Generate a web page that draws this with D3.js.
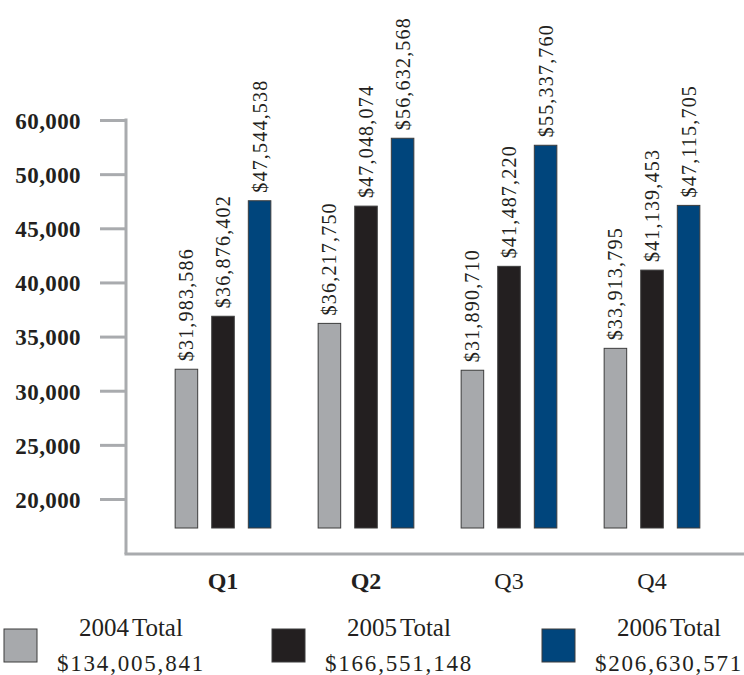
<!DOCTYPE html>
<html>
<head>
<meta charset="utf-8">
<script src="https://cdn.jsdelivr.net/npm/d3@7"></script>
<style>
  html, body { margin: 0; padding: 0; background: #fff; }
  svg { display: block; }
  text { font-family: "Liberation Serif", "DejaVu Serif", serif; fill: #231f20; }
</style>
</head>
<body>
<svg id="chart" width="744" height="675"></svg>
<script>
// Quarterly revenue by year (values in $ thousands on the axis)
const quarters = ["Q1", "Q2", "Q3", "Q4"];
const boldQuarters = ["Q1", "Q2"];
const years = ["2004", "2005", "2006"];
const values2004 = [31983586, 36217750, 31890710, 33913795];
const values2005 = [36876402, 47048074, 41487220, 41139453];
const values2006 = [47544538, 56632568, 55337760, 47115705];
const yearTotals = [134005841, 166551148, 206630571];
const yTickValues = [20000, 25000, 30000, 35000, 40000, 45000, 50000, 60000];
const yearColors = ["#a7a9ac", "#231f20", "#00457c"];

const seriesValues = [values2004, values2005, values2006];

const svg = d3.select("#chart");

// Layout
const axisX = 126;
const axisTop = 120;
const axisBottom = 554;
const barBaseY = 528;
const tickBottomY = 499;
const tickStepPx = 54.14;

// Axis ticks are evenly spaced, so the scale is piecewise across the tick values
const y = d3.scaleLinear()
  .domain(yTickValues)
  .range(yTickValues.map((_, i) => tickBottomY - i * tickStepPx));

const x0 = d3.scaleBand().domain(quarters).range([151.5, 723.5]).paddingInner(0).paddingOuter(0);
const groupWidth = 95.7;
const x1 = d3.scaleBand().domain(years).range([0, groupWidth]).paddingInner(0.384).paddingOuter(0);

// Axis frame
const axisColor = "#a9abae";
svg.append("line")
  .attr("x1", axisX).attr("x2", axisX)
  .attr("y1", axisTop - 1.5).attr("y2", axisBottom)
  .attr("stroke", axisColor).attr("stroke-width", 3);
svg.append("line")
  .attr("x1", axisX - 1.5).attr("x2", 744)
  .attr("y1", axisBottom).attr("y2", axisBottom)
  .attr("stroke", axisColor).attr("stroke-width", 3);

const yAxis = svg.append("g")
  .attr("transform", `translate(${axisX},0)`)
  .call(d3.axisLeft(y).tickValues(yTickValues).tickSize(26).tickPadding(19).tickFormat(d3.format(",")));
yAxis.select(".domain").remove();
yAxis.selectAll(".tick line").attr("stroke", axisColor).attr("stroke-width", 3);
yAxis.selectAll(".tick text")
  .attr("font-family", "'Liberation Serif', 'DejaVu Serif', serif")
  .attr("font-size", 23)
  .attr("font-weight", "bold")
  .attr("letter-spacing", 0.4)
  .attr("fill", "#231f20")
  .attr("dy", "0.36em");

// Bars and value labels
const fmtMoney = v => "$" + d3.format(",")(v);
const barData = [];
quarters.forEach((q, qi) => {
  years.forEach((yr, yi) => {
    barData.push({ q, yr, yi, value: seriesValues[yi][qi] });
  });
});

const groupLeft = q => x0(q) + x0.bandwidth() / 2 - groupWidth / 2;

svg.append("g").selectAll("rect")
  .data(barData)
  .join("rect")
  .attr("x", d => groupLeft(d.q) + x1(d.yr))
  .attr("width", x1.bandwidth())
  .attr("y", d => y(d.value / 1000))
  .attr("height", d => barBaseY - y(d.value / 1000))
  .attr("fill", d => yearColors[d.yi])
  .attr("stroke", "#3d3d3d")
  .attr("stroke-width", 1);

svg.append("g").selectAll("text")
  .data(barData)
  .join("text")
  .attr("transform", d => {
    const cx = groupLeft(d.q) + x1(d.yr) + x1.bandwidth() / 2;
    const ty = y(d.value / 1000) - 8;
    return `translate(${cx},${ty}) rotate(-90)`;
  })
  .attr("dy", "0.35em")
  .attr("font-size", 20)
  .attr("letter-spacing", 1.2)
  .text(d => fmtMoney(d.value));

// Quarter labels
svg.append("g").selectAll("text")
  .data(quarters)
  .join("text")
  .attr("x", q => x0(q) + x0.bandwidth() / 2)
  .attr("y", 589)
  .attr("text-anchor", "middle")
  .attr("font-size", 24)
  .attr("font-weight", q => boldQuarters.includes(q) ? "bold" : "normal")
  .text(q => q);

// Legend
const legendX = [4, 272, 542];
const legend = svg.append("g").selectAll("g")
  .data(years)
  .join("g")
  .attr("transform", (d, i) => `translate(${legendX[i]},629)`);

legend.append("rect")
  .attr("width", 33).attr("height", 33)
  .attr("fill", (d, i) => yearColors[i])
  .attr("stroke", "#3d3d3d").attr("stroke-width", 1);

legend.append("text")
  .attr("x", 127).attr("y", 7)
  .attr("text-anchor", "middle")
  .attr("font-size", 25)
  .attr("word-spacing", -3)
  .text(d => d + " Total");

legend.append("text")
  .attr("x", 127).attr("y", 42)
  .attr("text-anchor", "middle")
  .attr("font-size", 23)
  .attr("letter-spacing", 1.8)
  .text((d, i) => fmtMoney(yearTotals[i]));
</script>
</body>
</html>
